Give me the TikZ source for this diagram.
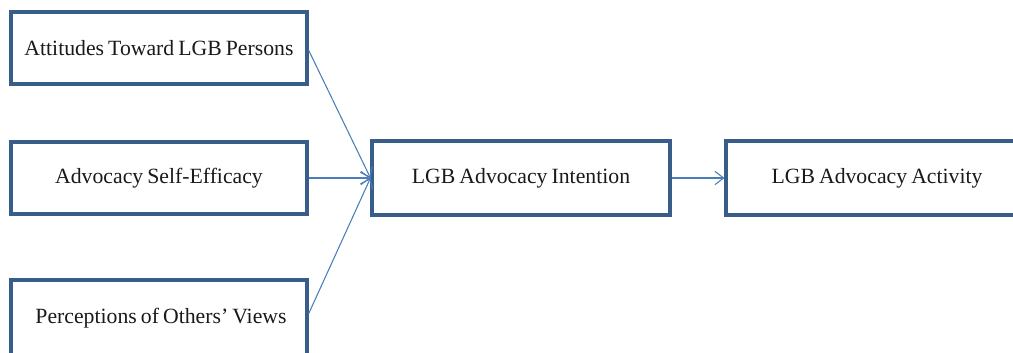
\documentclass[tikz,border=0pt]{standalone}
\usepackage{fontspec}
\setmainfont[WordSpace=0.75]{Liberation Serif}
\usetikzlibrary{arrows.meta}
\definecolor{boxline}{HTML}{385D8A}
\definecolor{arrline}{HTML}{4A7EBB}
\definecolor{txt}{HTML}{1A1A1A}
\begin{document}
\begin{tikzpicture}[x=0.75pt,y=-0.75pt,
  box/.style={draw=boxline,line width=2.3pt,fill=white,rectangle,inner sep=0pt,
    text=txt,font=\fontsize{16.3}{19}\selectfont},
  conn/.style={draw=arrline,line width=0.8pt,-{Straight Barb[length=6.5pt,width=10pt,line width=0.8pt]}}]
\useasboundingbox (0,0) rectangle (1013,353);
\clip (0,0) rectangle (1013,353);
\node[box,minimum width=222pt,minimum height=54pt] (b1) at (159,48) {Attitudes Toward LGB Persons};
\node[box,minimum width=222pt,minimum height=54pt] (b2) at (159,178) {Advocacy Self-Efficacy\hspace{10pt}};
\node[box,minimum width=222pt,minimum height=57pt] (b3) at (159,318) {\hspace{3pt}Perceptions of Others' Views};
\node[box,minimum width=223.5pt,minimum height=55.5pt] (b4) at (521,178) {LGB Advocacy Intention};
\node[box,minimum width=226.5pt,minimum height=55.5pt] (b5) at (877,178) {LGB Advocacy Activity};
\draw[conn] ([yshift=-1.5pt]b1.east) -- (b4.west);
\draw[conn] (b2.east) -- (b4.west);
\draw[conn] ([yshift=3pt]b3.east) -- (b4.west);
\draw[conn] (b4.east) -- (b5.west);
\end{tikzpicture}
\end{document}
